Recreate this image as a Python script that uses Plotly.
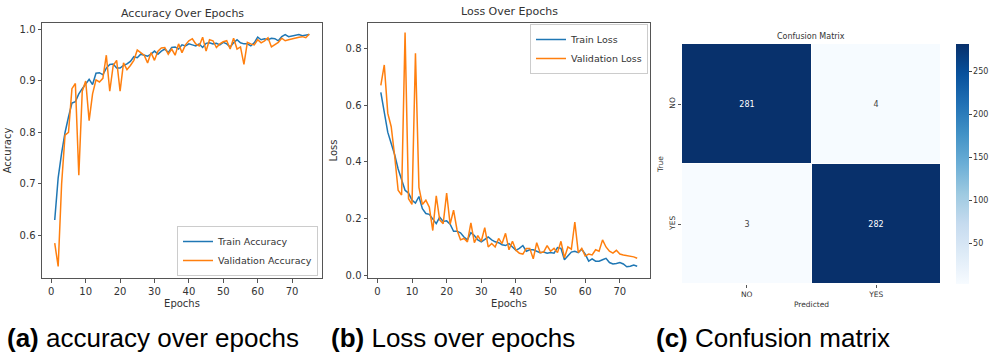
import plotly.graph_objects as go

epochs = list(range(1, 76))

train_acc = [0.630, 0.712, 0.760, 0.800, 0.830, 0.857, 0.860, 0.875, 0.885, 0.893,
             0.903, 0.893, 0.915, 0.916, 0.912, 0.925, 0.932, 0.933, 0.925, 0.925,
             0.930, 0.933, 0.938, 0.947, 0.945, 0.952, 0.950, 0.948, 0.952, 0.958,
             0.952, 0.958, 0.962, 0.955, 0.965, 0.966, 0.962, 0.970, 0.968, 0.972,
             0.970, 0.968, 0.972, 0.965, 0.973, 0.974, 0.972, 0.973, 0.970, 0.975,
             0.972, 0.966, 0.974, 0.980, 0.974, 0.972, 0.972, 0.968, 0.974, 0.985,
             0.980, 0.982, 0.980, 0.983, 0.982, 0.978, 0.986, 0.990, 0.986, 0.987,
             0.988, 0.990, 0.988, 0.989, 0.990]

val_acc = [0.585, 0.540, 0.700, 0.795, 0.800, 0.885, 0.895, 0.717, 0.880, 0.900,
           0.823, 0.875, 0.902, 0.898, 0.905, 0.950, 0.880, 0.930, 0.940, 0.880,
           0.935, 0.922, 0.930, 0.940, 0.960, 0.955, 0.950, 0.935, 0.955, 0.940,
           0.958, 0.964, 0.965, 0.952, 0.962, 0.950, 0.972, 0.955, 0.970, 0.978,
           0.982, 0.972, 0.968, 0.985, 0.958, 0.980, 0.978, 0.965, 0.972, 0.976,
           0.978, 0.962, 0.983, 0.962, 0.966, 0.932, 0.975, 0.972, 0.970, 0.980,
           0.974, 0.978, 0.984, 0.966, 0.970, 0.975, 0.983, 0.978, 0.980, 0.982,
           0.984, 0.985, 0.986, 0.984, 0.991]

train_loss = [0.645, 0.570, 0.505, 0.465, 0.425, 0.375, 0.340, 0.300, 0.290, 0.265,
              0.255, 0.278, 0.235, 0.218, 0.215, 0.200, 0.182, 0.205, 0.190, 0.192,
              0.180, 0.155, 0.155, 0.150, 0.135, 0.125, 0.150, 0.140, 0.125, 0.118,
              0.125, 0.135, 0.125, 0.118, 0.115, 0.108, 0.105, 0.112, 0.100, 0.088,
              0.095, 0.105, 0.085, 0.090, 0.090, 0.085, 0.080, 0.082, 0.078, 0.080,
              0.078, 0.098, 0.095, 0.055, 0.068, 0.082, 0.085, 0.080, 0.092, 0.075,
              0.050, 0.058, 0.050, 0.050, 0.055, 0.060, 0.045, 0.040, 0.042, 0.045,
              0.040, 0.030, 0.032, 0.036, 0.032]

val_loss = [0.670, 0.742, 0.572, 0.524, 0.420, 0.300, 0.283, 0.856, 0.270, 0.250,
            0.783, 0.310, 0.250, 0.265, 0.240, 0.158, 0.280, 0.195, 0.182, 0.290,
            0.180, 0.230, 0.160, 0.125, 0.130, 0.118, 0.185, 0.115, 0.140, 0.120,
            0.168, 0.100, 0.112, 0.100, 0.130, 0.112, 0.148, 0.090, 0.120, 0.088,
            0.078, 0.075, 0.095, 0.095, 0.058, 0.115, 0.080, 0.082, 0.105, 0.085,
            0.095, 0.080, 0.120, 0.062, 0.100, 0.092, 0.188, 0.080, 0.095, 0.068,
            0.075, 0.072, 0.090, 0.085, 0.125, 0.100, 0.085, 0.078, 0.088, 0.075,
            0.072, 0.070, 0.066, 0.065, 0.060]

cm_labels = ["NO", "YES"]
cm_values = [[281, 4], [3, 282]]

acc_ticks = [0.6, 0.7, 0.8, 0.9, 1.0]
loss_ticks = [0.0, 0.2, 0.4, 0.6, 0.8]
epoch_ticks = [0, 10, 20, 30, 40, 50, 60, 70]
cbar_ticks = [50, 100, 150, 200, 250]

captions = ["<b>(a)</b> accuracy over epochs", "<b>(b)</b> Loss over epochs", "<b>(c)</b> Confusion matrix"]

BLUE = "#1f77b4"
ORANGE = "#ff7f0e"
W, H = 990, 356
FONT = "DejaVu Sans"
TXT = "#333333"

def px(v):
    return v / W

def py(v):
    return 1 - v / H

fig = go.Figure()

fig.add_trace(go.Scatter(x=epochs, y=train_acc, mode="lines", name="Train Accuracy",
                         line=dict(color=BLUE, width=1.5), xaxis="x", yaxis="y", legend="legend"))
fig.add_trace(go.Scatter(x=epochs, y=val_acc, mode="lines", name="Validation Accuracy",
                         line=dict(color=ORANGE, width=1.5), xaxis="x", yaxis="y", legend="legend"))
fig.add_trace(go.Scatter(x=epochs, y=train_loss, mode="lines", name="Train Loss",
                         line=dict(color=BLUE, width=1.5), xaxis="x2", yaxis="y2", legend="legend2"))
fig.add_trace(go.Scatter(x=epochs, y=val_loss, mode="lines", name="Validation Loss",
                         line=dict(color=ORANGE, width=1.5), xaxis="x2", yaxis="y2", legend="legend2"))

blues = [[0.0, "#f7fbff"], [0.125, "#deebf7"], [0.25, "#c6dbef"], [0.375, "#9ecae1"],
         [0.5, "#6baed6"], [0.625, "#4292c6"], [0.75, "#2171b5"], [0.875, "#08519c"],
         [1.0, "#08306b"]]

fig.add_trace(go.Heatmap(
    z=cm_values, x=cm_labels, y=cm_labels, xaxis="x3", yaxis="y3",
    colorscale=blues, xgap=1, ygap=1, showscale=True,
    text=[[str(v) for v in row] for row in cm_values],
    texttemplate="%{text}",
    textfont=dict(family=FONT, size=8),
    colorbar=dict(x=px(956), xanchor="left", y=py(44), yanchor="top",
                  len=240 / H, lenmode="fraction", thickness=13,
                  tickvals=cbar_ticks, ticks="outside", ticklen=3,
                  tickfont=dict(family=FONT, size=8, color=TXT),
                  outlinewidth=0, xpad=0, ypad=0),
    hoverinfo="skip",
))

axis_common = dict(showline=True, mirror=True, linecolor="#555555", linewidth=1,
                   ticks="outside", ticklen=3.5, tickcolor="#555555",
                   showgrid=False, zeroline=False, automargin=False,
                   tickfont=dict(family=FONT, size=10, color=TXT))

fig.update_layout(
    width=W, height=H, margin=dict(l=0, r=0, t=0, b=0, autoexpand=False),
    paper_bgcolor="white", plot_bgcolor="white",
    showlegend=True,
    xaxis=dict(domain=[px(42), px(322)], anchor="y", range=[-2.7, 78.7], tickvals=epoch_ticks,
               title=dict(text="Epochs", font=dict(family=FONT, size=10, color=TXT), standoff=4),
               **axis_common),
    yaxis=dict(domain=[py(278), py(23)], anchor="x", range=[0.5175, 1.0125], tickvals=acc_ticks,
               tickformat=".1f",
               title=dict(text="Accuracy", font=dict(family=FONT, size=10, color=TXT), standoff=6),
               **axis_common),
    xaxis2=dict(domain=[px(368), px(650)], anchor="y2", range=[-2.7, 78.7], tickvals=epoch_ticks,
                title=dict(text="Epochs", font=dict(family=FONT, size=10, color=TXT), standoff=4),
                **axis_common),
    yaxis2=dict(domain=[py(278), py(23)], anchor="x2", range=[-0.0095, 0.89], tickvals=loss_ticks,
                tickformat=".1f",
                title=dict(text="Loss", font=dict(family=FONT, size=10, color=TXT), standoff=6),
                **axis_common),
    xaxis3=dict(domain=[px(682), px(941)], anchor="y3", showline=False, showgrid=False,
                zeroline=False, ticks="outside", ticklen=3, tickcolor="#555555", automargin=False,
                tickfont=dict(family=FONT, size=7.5, color=TXT),
                title=dict(text="Predicted", font=dict(family=FONT, size=7.5, color=TXT), standoff=3)),
    yaxis3=dict(domain=[py(284), py(44)], anchor="x3", autorange="reversed", showline=False,
                showgrid=False, zeroline=False, ticks="outside", ticklen=3, tickcolor="#555555",
                tickangle=-90, automargin=False,
                tickfont=dict(family=FONT, size=7.5, color=TXT),
                title=dict(text="True", font=dict(family=FONT, size=7.5, color=TXT), standoff=3)),
    legend=dict(x=px(318), xanchor="right", y=py(276), yanchor="bottom",
                bgcolor="rgba(255,255,255,0.8)", bordercolor="#cccccc", borderwidth=1,
                font=dict(family=FONT, size=9.5, color=TXT), tracegroupgap=0,
                itemwidth=30),
    legend2=dict(x=px(648), xanchor="right", y=py(24), yanchor="top",
                 bgcolor="rgba(255,255,255,0.8)", bordercolor="#cccccc", borderwidth=1,
                 font=dict(family=FONT, size=9.5, color=TXT), tracegroupgap=0,
                 itemwidth=30),
)

annotations = [
    dict(text="Accuracy Over Epochs", x=px(182), y=py(13), xref="paper", yref="paper",
         showarrow=False, font=dict(family=FONT, size=11, color=TXT), xanchor="center", yanchor="middle"),
    dict(text="Loss Over Epochs", x=px(509), y=py(12), xref="paper", yref="paper",
         showarrow=False, font=dict(family=FONT, size=11, color=TXT), xanchor="center", yanchor="middle"),
    dict(text="Confusion Matrix", x=px(811), y=py(36), xref="paper", yref="paper",
         showarrow=False, font=dict(family=FONT, size=8, color=TXT), xanchor="center", yanchor="middle"),
]
cap_x = [5, 329, 654]
for cx, cap in zip(cap_x, captions):
    annotations.append(dict(text=cap, x=px(cx), y=py(338), xref="paper", yref="paper",
                            showarrow=False, xanchor="left", yanchor="middle",
                            font=dict(family="Liberation Sans", size=26, color="black")))
fig.update_layout(annotations=annotations)

fig.write_html("out.html")
